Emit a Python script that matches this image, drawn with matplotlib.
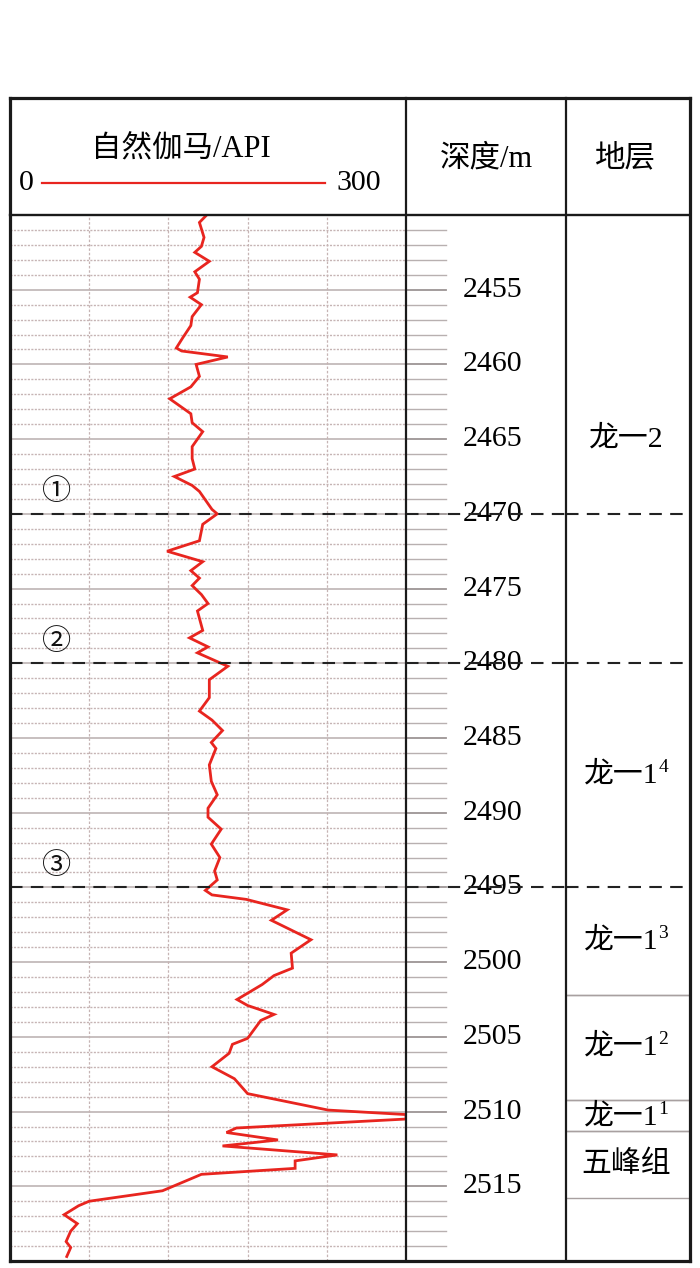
import matplotlib
matplotlib.use("Agg")
import matplotlib.pyplot as plt
from matplotlib.lines import Line2D
import numpy as np

# ---------------- data ----------------
depth = [2450.0, 2450.5, 2451.5, 2452.1, 2452.5, 2453.1, 2453.8, 2454.3, 2455.2, 2455.5,
         2456.0, 2456.8, 2457.4, 2458.2, 2458.9, 2459.1, 2459.5, 2460.0, 2460.8, 2461.5,
         2462.3, 2463.3, 2463.9, 2464.5, 2465.5, 2466.3, 2467.0, 2467.5, 2468.1, 2468.5,
         2469.7, 2470.0, 2470.7, 2471.8, 2472.5, 2473.2, 2473.8, 2474.3, 2474.8, 2475.4,
         2476.0, 2476.5, 2477.8, 2478.3, 2478.9, 2479.3, 2480.2, 2481.1, 2482.3, 2483.2,
         2483.8, 2484.5, 2485.3, 2485.7, 2486.8, 2487.9, 2488.8, 2489.7, 2490.3, 2491.1,
         2492.1, 2493.0, 2493.9, 2494.5, 2495.2, 2495.5, 2495.8, 2496.5, 2497.2, 2498.5,
         2499.4, 2500.4, 2500.9, 2501.5, 2502.5, 2502.9, 2503.5, 2503.9, 2505.1, 2505.5,
         2506.1, 2507.0, 2507.8, 2508.8, 2509.9, 2510.2, 2510.5, 2511.1, 2511.4, 2511.9,
         2512.3, 2512.9, 2513.3, 2513.8, 2514.2, 2514.5, 2515.3, 2516.0, 2516.3, 2516.9,
         2517.5, 2518.0, 2518.7, 2519.1, 2519.7]
gr = [149, 143.5, 147, 145, 140, 151, 140, 143.5, 142, 136.5,
      145, 138, 137, 131, 126, 130, 165, 141, 143.5, 137,
      121, 137, 138, 146, 138, 138, 140, 124.5, 138, 143.5,
      153, 157, 146, 143.5, 119, 146, 137, 143.5, 138, 145,
      150, 142, 146, 136, 150, 142, 165, 151, 151, 143.5,
      153, 161, 152.5, 156, 151, 152.5, 157, 150, 150, 160,
      152.5, 159, 155, 157, 148, 153, 179, 210, 198, 228,
      213, 214, 200, 191, 172, 180, 200, 190, 180, 168.5,
      166, 153, 170, 180, 241, 300, 300, 171.5, 164, 203,
      161, 248, 216, 216, 145, 137, 115.5, 60, 52, 41,
      51, 46, 42.5, 46, 43]

depth_labels = [2455, 2460, 2465, 2470, 2475, 2480, 2485, 2490, 2495, 2500, 2505, 2510, 2515]
marker_depths = [2470, 2480, 2495]
marker_names = ["①", "②", "③"]
strata_names = ["龙一2", "龙一1", "龙一1", "龙一1", "龙一1", "五峰组"]
strata_sup = ["", "4", "3", "2", "1", ""]
strata_top = [2450.0, 2480.0, 2495.0, 2502.2, 2509.2, 2511.3]
strata_bot = [2480.0, 2495.0, 2502.2, 2509.2, 2511.3, 2515.8]

D_TOP, D_BOT = 2450, 2520
GR_MIN, GR_MAX = 0, 300

# ---------------- layout ----------------
W, H = 700, 1268
fig = plt.figure(figsize=(W / 100, H / 100), dpi=100)

def px(x0, y0, x1, y1):
    return [x0 / W, 1 - y1 / H, (x1 - x0) / W, (y1 - y0) / H]

FR_L, FR_R, FR_T, FR_B = 10, 690, 97.5, 1261
HDR = 215
C1, C2 = 406, 566

serif = ['Liberation Serif', 'Noto Sans CJK SC']
red = '#e8251f'
grid_dot = '#c6b4b4'
grid_solid = '#b8aeae'
FS = 21.5

ax_gr = fig.add_axes(px(FR_L, HDR, C1, FR_B))
ax_d = fig.add_axes(px(C1, HDR, C2, FR_B))
ax_s = fig.add_axes(px(C2, HDR, FR_R, FR_B))
for a in (ax_gr, ax_d, ax_s):
    a.set_ylim(D_BOT, D_TOP)
    a.set_xticks([]); a.set_yticks([])
    for s in a.spines.values():
        s.set_visible(False)
ax_gr.set_xlim(GR_MIN, GR_MAX)
ax_d.set_xlim(0, 160)
ax_s.set_xlim(0, 124)

# GR grid
for d in range(D_TOP + 1, D_BOT):
    if d % 5 == 0:
        ax_gr.axhline(d, color=grid_solid, lw=1.1, zorder=1)
    else:
        ax_gr.axhline(d, color=grid_dot, lw=1.0, ls=(0, (1.5, 1.0)), zorder=1)
for g in [60, 120, 180, 240]:
    ax_gr.axvline(g, color=grid_dot, lw=0.9, ls=(0, (2, 1.5)), zorder=1)

ax_gr.plot(gr, depth, color=red, lw=2.0, zorder=3, solid_joinstyle='miter')

# depth ticks
for d in range(D_TOP + 1, D_BOT):
    col = '#9c9494' if d % 5 == 0 else '#b8b0b0'
    ax_d.plot([0, 40], [d, d], color=col, lw=1.3 if d % 5 == 0 else 1.0, zorder=1)
for d in depth_labels:
    ax_d.text(87, d, str(d), ha='center', va='center', fontsize=FS,
              family=serif, zorder=2)

# marker lines and circled numbers
for d, name in zip(marker_depths, marker_names):
    for a in (ax_gr, ax_d, ax_s):
        a.axhline(d, color='#222222', lw=1.5, ls=(0, (6, 4)), zorder=4)
    ax_gr.text(35, d - 1.45, name, ha='center', va='center', fontsize=21,
               family=['Noto Sans CJK SC'], color='#111111')

# strata column
for i, (nm, sp, t, b) in enumerate(zip(strata_names, strata_sup, strata_top, strata_bot)):
    if i > 0 and t not in marker_depths:
        ax_s.axhline(t, color='#a8a0a0', lw=1.0)
    if b not in marker_depths:
        ax_s.axhline(b, color='#a8a0a0', lw=1.0)
    yc = (t + b) / 2
    if i == 4:
        yc = t + 0.55 * (b - t)
    xc = 60 if sp == "" else 55
    txt = ax_s.text(xc, yc, nm, ha='center', va='center', fontsize=FS, family=serif)
    if sp:
        ax_s.annotate(sp, xy=(1.0, 0.78), xycoords=txt, ha='left', va='center',
                      fontsize=14, family=serif)

# frame lines (figure coordinates)
def fline(x0, y0, x1, y1, lw, color='#1a1a1a'):
    fig.add_artist(Line2D([x0 / W, x1 / W], [1 - y0 / H, 1 - y1 / H], color=color,
                          lw=lw, solid_capstyle='projecting', zorder=10))

fline(FR_L, FR_T, FR_R, FR_T, 2.3)
fline(FR_L, FR_B, FR_R, FR_B, 2.3)
fline(FR_L, FR_T, FR_L, FR_B, 2.3)
fline(FR_R, FR_T, FR_R, FR_B, 2.3)
fline(FR_L, HDR, FR_R, HDR, 1.7)
fline(C1, FR_T, C1, FR_B, 1.6)
fline(C2, FR_T, C2, FR_B, 1.6)

# header
fig.text(181 / W, 1 - 150 / H, "自然伽马/API", ha='center', va='center', fontsize=22, family=serif)
fig.text(26 / W, 1 - 183 / H, "0", ha='center', va='center', fontsize=FS, family=serif)
fig.text(359 / W, 1 - 183 / H, "300", ha='center', va='center', fontsize=FS, family=serif)
fig.add_artist(Line2D([42 / W, 325 / W], [1 - 183 / H, 1 - 183 / H], color=red, lw=1.6))
fig.text(486 / W, 1 - 159 / H, "深度/m", ha='center', va='center', fontsize=22, family=serif)
fig.text(625 / W, 1 - 159 / H, "地层", ha='center', va='center', fontsize=22, family=serif)

fig.savefig("out.png", dpi=100, facecolor='white')
